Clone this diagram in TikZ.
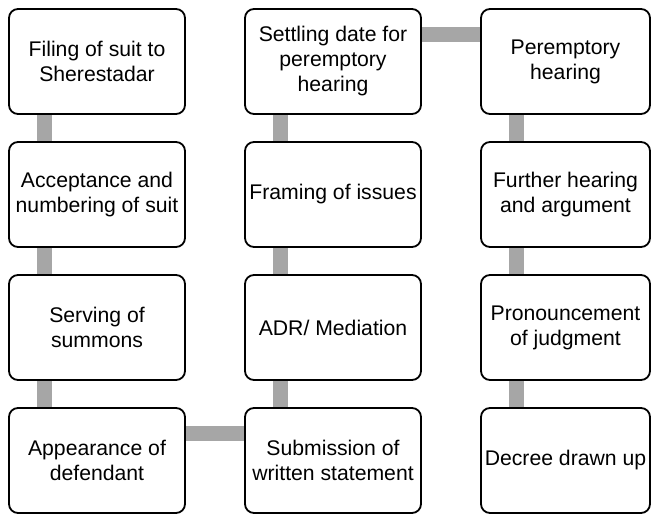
\documentclass[tikz,border=0pt]{standalone}
\usepackage{fontspec}
\setmainfont{Liberation Sans}
\usepackage{tikz}
\usetikzlibrary{calc, backgrounds}
\definecolor{bargray}{HTML}{A6A6A6}

\begin{document}
\begin{tikzpicture}[
    x=1pt, y=1pt,
    stage/.style={
        draw,
        line width=1.8pt,
        rounded corners=9pt,
        fill=white,
        align=center,
        inner sep=0pt,
        minimum width=176pt,
        minimum height=105pt,
        font=\fontsize{21.2}{25}\selectfont
    },
    link/.style={
        line width=15pt,
        color=bargray
    }
]
\useasboundingbox (0,0) rectangle (651,-514);

% first column (downwards)
\node[stage] (s1) at (97, -61.5) {Filing of suit to\\Sherestadar};
\node[stage] (s2) at (97, -194.5) {Acceptance and\\numbering of suit};
\node[stage] (s3) at (97, -327.5) {Serving of\\summons};
\node[stage] (s4) at (97, -460.5) {Appearance of\\defendant};

% second column (upwards)
\node[stage] (m1) at (333, -61.5) {Settling date for\\peremptory\\hearing};
\node[stage] (m2) at (333, -194.5) {Framing of issues};
\node[stage] (m3) at (333, -327.5) {ADR/ Mediation};
\node[stage] (m4) at (333, -460.5) {Submission of\\written statement};

% third column (downwards)
\node[stage, minimum width=169pt] (e1) at (565.5, -61.5) {Peremptory\\hearing};
\node[stage, minimum width=169pt] (e2) at (565.5, -194.5) {Further hearing\\and argument};
\node[stage, minimum width=169pt] (e3) at (565.5, -327.5) {Pronouncement\\of judgment};
\node[stage, minimum width=169pt] (e4) at (565.5, -460.5) {Decree drawn up};

% Connecting bars
\begin{scope}[on background layer]
\foreach \a/\b in {s1/s2, s2/s3, s3/s4, m4/m3, m3/m2, m2/m1, e1/e2, e2/e3, e3/e4}
    \draw[link] ($(\a.south west)!36pt!(\a.south east)$) -- ($(\b.north west)!36pt!(\b.north east)$);
\draw[link] ($(s4.north east)+(0,-26)$) -- ($(m4.north west)+(0,-26)$);
\draw[link] ($(m1.north east)+(0,-26)$) -- ($(e1.north west)+(0,-26)$);
\end{scope}

\end{tikzpicture}
\end{document}
